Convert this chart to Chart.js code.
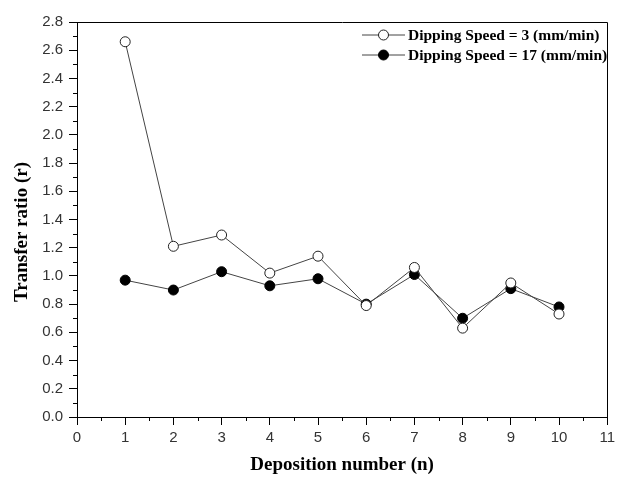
<!DOCTYPE html>
<html>
<head>
<meta charset="utf-8">
<script src="https://cdn.jsdelivr.net/npm/chart.js@4.4.1/dist/chart.umd.min.js"></script>
<style>
  html, body { margin: 0; padding: 0; background: #ffffff; }
  #wrap { width: 619px; height: 477px; position: relative; }
</style>
</head>
<body>
<div id="wrap"><canvas id="c" width="619" height="477"></canvas></div>
<script>
// ---- data ----
const depositions = [1, 2, 3, 4, 5, 6, 7, 8, 9, 10];
const speed3  = [2.66, 1.21, 1.29, 1.02, 1.14, 0.79, 1.06, 0.63, 0.95, 0.73];
const speed17 = [0.97, 0.90, 1.03, 0.93, 0.98, 0.80, 1.01, 0.70, 0.91, 0.78];
const seriesLabels = ['Dipping Speed = 3 (mm/min)', 'Dipping Speed = 17 (mm/min)'];
const xTitle = 'Deposition number (n)';
const yTitle = 'Transfer ratio (r)';

const toPoints = (arr) => arr.map((v, i) => ({ x: depositions[i], y: v }));

const serifBold = (s) => 'bold ' + s + 'px "Liberation Serif", "Times New Roman", serif';

const frameAndMinor = {
  id: 'frameAndMinor',
  afterDraw(chart) {
    const ctx = chart.ctx;
    const a = chart.chartArea;
    const xs = chart.scales.x, ys = chart.scales.y;
    ctx.save();
    ctx.strokeStyle = '#000';
    ctx.lineWidth = 1;
    ctx.beginPath();
    ctx.rect(Math.round(a.left) + 0.5, Math.round(a.top) + 0.5,
             Math.round(a.right - a.left), Math.round(a.bottom - a.top));
    ctx.stroke();
    // minor ticks
    ctx.beginPath();
    for (let v = 0.1; v < 2.8; v += 0.2) {
      const py = Math.round(ys.getPixelForValue(v)) + 0.5;
      ctx.moveTo(a.left - 4, py); ctx.lineTo(a.left, py);
    }
    for (let v = 0.5; v < 11; v += 1) {
      const px = Math.round(xs.getPixelForValue(v)) + 0.5;
      ctx.moveTo(px, a.bottom); ctx.lineTo(px, a.bottom + 4);
    }
    ctx.stroke();
    // y title
    ctx.save();
    ctx.translate(22, 232);
    ctx.rotate(-Math.PI / 2);
    ctx.font = serifBold(19);
    ctx.fillStyle = '#000';
    ctx.textAlign = 'center';
    ctx.textBaseline = 'middle';
    ctx.fillText(yTitle, 0, 0);
    ctx.restore();
    // legend
    const ds = chart.data.datasets;
    const lx0 = 362, lx1 = 405, ly = [35, 55];
    ctx.font = serifBold(15.5);
    ctx.textBaseline = 'middle';
    ctx.textAlign = 'left';
    ds.forEach((d, i) => {
      ctx.strokeStyle = d.borderColor;
      ctx.lineWidth = d.borderWidth;
      ctx.beginPath();
      ctx.moveTo(lx0, ly[i]); ctx.lineTo(lx1, ly[i]);
      ctx.stroke();
      ctx.beginPath();
      ctx.arc((lx0 + lx1) / 2, ly[i], d.pointRadius, 0, Math.PI * 2);
      ctx.fillStyle = d.pointBackgroundColor;
      ctx.fill();
      ctx.strokeStyle = d.pointBorderColor;
      ctx.lineWidth = d.pointBorderWidth;
      ctx.stroke();
      ctx.fillStyle = '#000';
      ctx.fillText(d.label, lx1 + 3, ly[i] + 1);
    });
    ctx.restore();
  }
};

const tickFont = { family: '"Liberation Sans", Arial, sans-serif', size: 15 };
const titleFont = { family: '"Liberation Serif", "Times New Roman", serif', size: 19, weight: 'bold' };

new Chart(document.getElementById('c'), {
  type: 'line',
  data: {
    datasets: [
      {
        label: seriesLabels[0],
        data: toPoints(speed3),
        borderColor: '#444',
        borderWidth: 1,
        pointRadius: 5,
        pointBackgroundColor: '#fff',
        pointBorderColor: '#222',
        pointBorderWidth: 1,
        tension: 0
      },
      {
        label: seriesLabels[1],
        data: toPoints(speed17),
        borderColor: '#444',
        borderWidth: 1,
        pointRadius: 5,
        pointBackgroundColor: '#000',
        pointBorderColor: '#000',
        pointBorderWidth: 1,
        tension: 0
      }
    ]
  },
  options: {
    responsive: false,
    animation: false,
    layout: { padding: { top: 22, right: 7, left: 0, bottom: 0 } },
    plugins: { legend: { display: false }, tooltip: { enabled: false } },
    scales: {
      x: {
        type: 'linear',
        min: 0, max: 11,
        ticks: { stepSize: 1, color: '#333', font: tickFont, padding: 4, maxRotation: 0, autoSkip: false },
        grid: { drawOnChartArea: false, tickLength: 8, color: '#000', tickColor: '#000' },
        border: { display: true, color: '#000', width: 1 },
        title: { display: true, text: xTitle, color: '#000', font: titleFont, padding: { top: 0, bottom: 1 } },
        afterFit(scale) { scale.height = 60; }
      },
      y: {
        min: 0, max: 2.8,
        ticks: { stepSize: 0.2, color: '#333', font: tickFont, padding: 6,
                 callback: (v) => Number(v).toFixed(1) },
        grid: { drawOnChartArea: false, tickLength: 8, color: '#000', tickColor: '#000' },
        border: { display: true, color: '#000', width: 1 },
        title: { display: false },
        afterFit(scale) { scale.width = 77; }
      }
    }
  },
  plugins: [frameAndMinor]
});
</script>
</body>
</html>
